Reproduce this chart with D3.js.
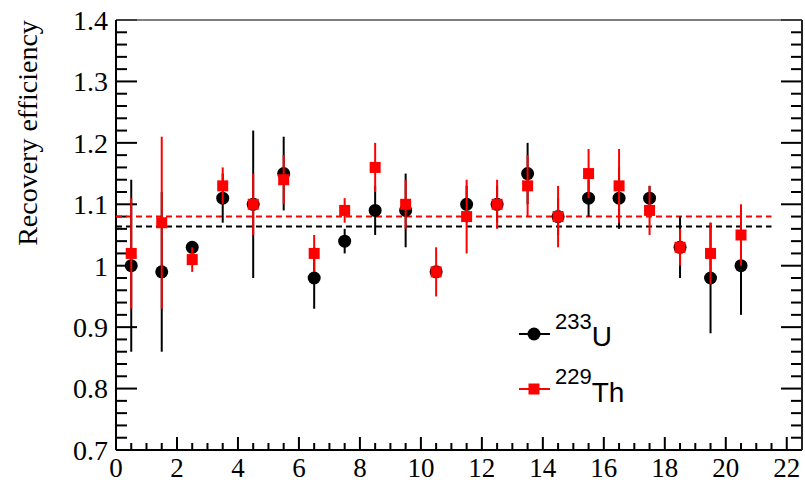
<!DOCTYPE html>
<html>
<head>
<meta charset="utf-8">
<script src="https://cdn.jsdelivr.net/npm/d3@7"></script>
<style>
  body { margin: 0; background: #fff; }
  svg { display: block; }
</style>
</head>
<body>
<div id="chart"></div>
<script>
// data
var xs      = [0.5, 1.5, 2.5, 3.5, 4.5, 5.5, 6.5, 7.5, 8.5, 9.5, 10.5, 11.5, 12.5, 13.5, 14.5, 15.5, 16.5, 17.5, 18.5, 19.5, 20.5];
var uVals   = [1.00, 0.99, 1.03, 1.11, 1.10, 1.15, 0.98, 1.04, 1.09, 1.09, 0.99, 1.10, 1.10, 1.15, 1.08, 1.11, 1.11, 1.11, 1.03, 0.98, 1.00];
var uErrs   = [0.14, 0.13, 0.005, 0.04, 0.12, 0.06, 0.05, 0.02, 0.04, 0.06, 0.01, 0.03, 0.03, 0.05, 0.03, 0.03, 0.05, 0.02, 0.05, 0.09, 0.08];
var thVals  = [1.02, 1.07, 1.01, 1.13, 1.10, 1.14, 1.02, 1.09, 1.16, 1.10, 0.99, 1.08, 1.10, 1.13, 1.08, 1.15, 1.13, 1.09, 1.03, 1.02, 1.05];
var thErrs  = [0.09, 0.14, 0.02, 0.03, 0.05, 0.04, 0.03, 0.02, 0.04, 0.04, 0.04, 0.06, 0.04, 0.05, 0.05, 0.04, 0.06, 0.04, 0.03, 0.05, 0.05];
var uMean = 1.064, thMean = 1.08;
var xTicks = [0, 2, 4, 6, 8, 10, 12, 14, 16, 18, 20, 22];
var yTicks = [0.7, 0.8, 0.9, 1.0, 1.1, 1.2, 1.3, 1.4];

var W = 805, H = 482;
var margin = {top: 20, right: 3, bottom: 32, left: 116};
var width = W - margin.left - margin.right,
    height = H - margin.top - margin.bottom;

var x = d3.scaleLinear().domain([0, 22.5]).range([0, width]);
var y = d3.scaleLinear().domain([0.7, 1.4]).range([height, 0]);

var svg = d3.select("#chart").append("svg")
    .attr("width", W).attr("height", H);
var g = svg.append("g")
    .attr("transform", "translate(" + margin.left + "," + margin.top + ")");

var serif = "Liberation Serif";

// minor ticks
var xMinor = d3.range(0, 22.51, 0.5);
var yMinor = d3.range(0.7, 1.4001, 0.02);

g.selectAll(".xt").data(xMinor).enter().append("line")
    .attr("x1", d => x(d)).attr("x2", d => x(d))
    .attr("y1", height)
    .attr("y2", d => height - (Math.abs(d % 2) < 1e-6 ? 13 : 7))
    .attr("stroke", "#000").attr("stroke-width", 2);

[0, width].forEach(function(x0, side) {
  g.selectAll(".yt" + side).data(yMinor).enter().append("line")
      .attr("x1", x0)
      .attr("x2", d => {
        var major = Math.abs(Math.round(d * 10) - d * 10) < 1e-6;
        var len = major ? 21 : 11;
        return side ? x0 - len : x0 + len;
      })
      .attr("y1", d => y(d)).attr("y2", d => y(d))
      .attr("stroke", "#000").attr("stroke-width", 2);
});

// frame
g.append("line").attr("x1", 0).attr("x2", width).attr("y1", 0).attr("y2", 0)
    .attr("stroke", "#555").attr("stroke-width", 1.5);
g.append("line").attr("x1", 0).attr("x2", width).attr("y1", height).attr("y2", height)
    .attr("stroke", "#000").attr("stroke-width", 2);
g.append("line").attr("x1", 0).attr("x2", 0).attr("y1", 0).attr("y2", height)
    .attr("stroke", "#000").attr("stroke-width", 2);
g.append("line").attr("x1", width).attr("x2", width).attr("y1", 0).attr("y2", height)
    .attr("stroke", "#222").attr("stroke-width", 2);

// tick labels
g.selectAll(".xl").data(xTicks).enter().append("text")
    .attr("x", d => x(d)).attr("y", height + 27)
    .attr("text-anchor", "middle")
    .attr("font-family", serif).attr("font-size", 27)
    .text(d => d);

g.selectAll(".yl").data(yTicks).enter().append("text")
    .attr("x", -8).attr("y", d => y(d))
    .attr("dy", "0.35em")
    .attr("text-anchor", "end")
    .attr("font-family", serif).attr("font-size", 28)
    .text(d => d3.format("")(+d.toFixed(1)));

svg.append("text")
    .attr("transform", "translate(37,133) rotate(-90)")
    .attr("text-anchor", "middle")
    .attr("font-family", serif).attr("font-size", 28)
    .text("Recovery efficiency");

// mean lines
var meanX0 = 0, meanX1 = 21.5;
g.append("line")
    .attr("x1", x(meanX0)).attr("x2", x(meanX1))
    .attr("y1", y(uMean)).attr("y2", y(uMean))
    .attr("stroke", "#000").attr("stroke-width", 2)
    .attr("stroke-dasharray", "6,4");
g.append("line")
    .attr("x1", x(meanX0)).attr("x2", x(meanX1))
    .attr("y1", y(thMean)).attr("y2", y(thMean))
    .attr("stroke", "#ff0000").attr("stroke-width", 2)
    .attr("stroke-dasharray", "6,4");

var uData = xs.map((d, i) => ({x: d, v: uVals[i], e: uErrs[i]}));
var thData = xs.map((d, i) => ({x: d, v: thVals[i], e: thErrs[i]}));

// 233U
g.selectAll(".ue").data(uData).enter().append("line")
    .attr("x1", d => x(d.x)).attr("x2", d => x(d.x))
    .attr("y1", d => y(d.v - d.e)).attr("y2", d => y(d.v + d.e))
    .attr("stroke", "#000").attr("stroke-width", 2);
g.selectAll(".um").data(uData).enter().append("circle")
    .attr("cx", d => x(d.x)).attr("cy", d => y(d.v))
    .attr("r", 6.5).attr("fill", "#000");

// 229Th
var sq = 11;
g.selectAll(".te").data(thData).enter().append("line")
    .attr("x1", d => x(d.x)).attr("x2", d => x(d.x))
    .attr("y1", d => y(d.v - d.e)).attr("y2", d => y(d.v + d.e))
    .attr("stroke", "#ff0000").attr("stroke-width", 2);
g.selectAll(".tm").data(thData).enter().append("rect")
    .attr("x", d => x(d.x) - sq / 2).attr("y", d => y(d.v) - sq / 2)
    .attr("width", sq).attr("height", sq).attr("fill", "#ff0000");

// legend
var sans = "Liberation Sans";
var leg = svg.append("g");
leg.append("line").attr("x1", 519).attr("x2", 550).attr("y1", 334).attr("y2", 334)
    .attr("stroke", "#000").attr("stroke-width", 2);
leg.append("circle").attr("cx", 534).attr("cy", 334).attr("r", 6.5).attr("fill", "#000");
leg.append("line").attr("x1", 519).attr("x2", 550).attr("y1", 389).attr("y2", 389)
    .attr("stroke", "#ff0000").attr("stroke-width", 2);
leg.append("rect").attr("x", 534 - sq / 2).attr("y", 389 - sq / 2)
    .attr("width", sq).attr("height", sq).attr("fill", "#ff0000");

var t1 = leg.append("text").attr("x", 555).attr("y", 346)
    .attr("font-family", sans).attr("font-size", 28);
t1.append("tspan").attr("dy", -17).attr("font-size", 22).text("233");
t1.append("tspan").attr("dy", 17).text("U");

var t2 = leg.append("text").attr("x", 555).attr("y", 402)
    .attr("font-family", sans).attr("font-size", 28);
t2.append("tspan").attr("dy", -18).attr("font-size", 22).text("229");
t2.append("tspan").attr("dy", 18).text("Th");
</script>
</body>
</html>
